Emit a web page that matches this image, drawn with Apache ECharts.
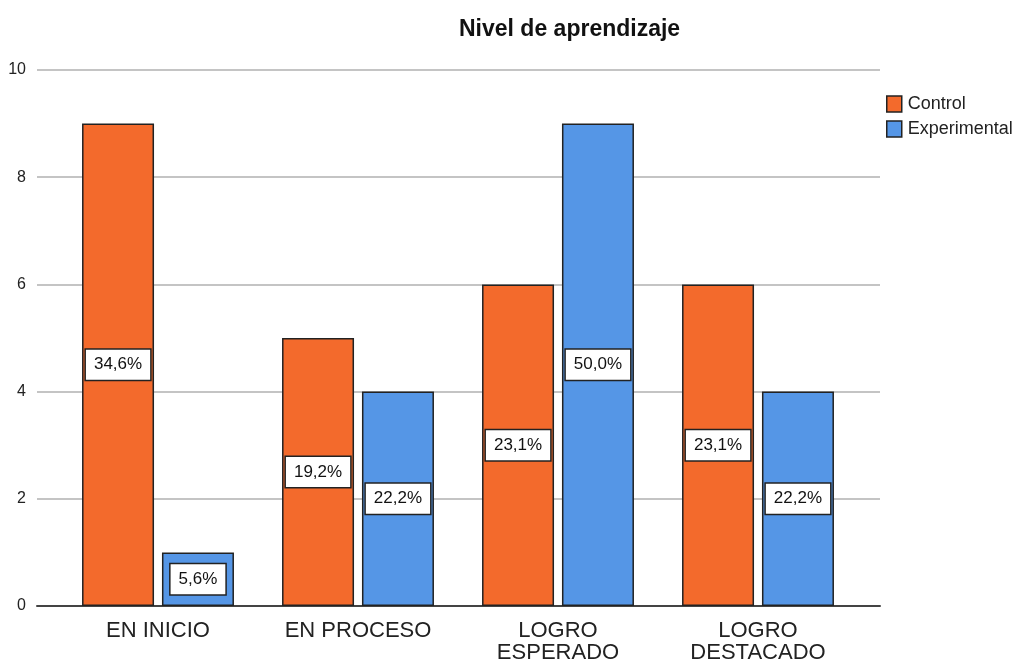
<!DOCTYPE html>
<html><head><meta charset="utf-8">
<script src="https://cdn.jsdelivr.net/npm/echarts@6/dist/echarts.min.js"></script>
<style>html,body{margin:0;padding:0;background:#fff}#c{width:1019px;height:663px}</style>
</head><body><div id="c"></div>
<script>
const categories = ['EN INICIO', 'EN PROCESO', 'LOGRO\nESPERADO', 'LOGRO\nDESTACADO'];
const controlValues = [9, 5, 6, 6];
const controlPct = ['34,6%', '19,2%', '23,1%', '23,1%'];
const experimentalValues = [1, 4, 9, 4];
const experimentalPct = ['5,6%', '22,2%', '50,0%', '22,2%'];
const yTicks = [0, 2, 4, 6, 8, 10];

const FF = 'Liberation Sans, Arial, sans-serif';
const chart = echarts.init(document.getElementById('c'));
const lbl = (pcts) => ({
  show: true, position: 'inside',
  formatter: p => pcts[p.dataIndex],
  backgroundColor: '#fff', borderColor: '#222', borderWidth: 1.5,
  padding: [7, 8, 6, 8], color: '#111', fontSize: 17, fontFamily: FF
});
chart.setOption({
  animation: false,
  title: { text: 'Nivel de aprendizaje', left: 454, top: 13,
    textStyle: { fontSize: 23, fontWeight: 'bold', color: '#111', fontFamily: FF } },
  legend: { orient: 'vertical', left: 881, top: 90, itemWidth: 15, itemHeight: 16, itemGap: 7, icon: 'rect',
    itemStyle: { borderColor: '#222', borderWidth: 1.5 },
    textStyle: { fontSize: 18, color: '#222', fontFamily: FF, padding: [0, 0, 0, 1] },
    data: ['Control', 'Experimental'] },
  grid: [
    { left: 37, right: 139, top: 70, bottom: 57, outerBoundsMode: 'none', containLabel: false },
    { left: 58, right: 161, top: 70, bottom: 57, outerBoundsMode: 'none', containLabel: false }
  ],
  xAxis: [
    { gridIndex: 0, type: 'category', data: categories, axisLine: { lineStyle: { color: '#444', width: 2 } },
      axisTick: { show: false }, axisLabel: { show: false } },
    { gridIndex: 1, type: 'category', data: categories, axisLine: { show: false }, axisTick: { show: false },
      axisLabel: { fontSize: 22, color: '#222', margin: 14, lineHeight: 22, interval: 0, fontFamily: FF } }
  ],
  yAxis: [
    { gridIndex: 0, type: 'value', min: 0, max: 10, interval: 2, axisLine: { show: false }, axisTick: { show: false },
      axisLabel: { fontSize: 16, color: '#222', margin: 11, formatter: v => yTicks.includes(v) ? String(v) : '', fontFamily: FF },
      splitLine: { lineStyle: { color: '#c4c4c4', width: 2 } } },
    { gridIndex: 1, type: 'value', min: 0, max: 10, interval: 2, show: false }
  ],
  series: [
    { name: 'Control', type: 'bar', xAxisIndex: 1, yAxisIndex: 1, data: controlValues,
      barWidth: 72, barGap: '11%',
      itemStyle: { color: '#F36A2C', borderColor: '#222', borderWidth: 1.5 }, label: lbl(controlPct) },
    { name: 'Experimental', type: 'bar', xAxisIndex: 1, yAxisIndex: 1, data: experimentalValues,
      barWidth: 72, barGap: '11%',
      itemStyle: { color: '#5596E6', borderColor: '#222', borderWidth: 1.5 }, label: lbl(experimentalPct) }
  ]
});
</script></body></html>
